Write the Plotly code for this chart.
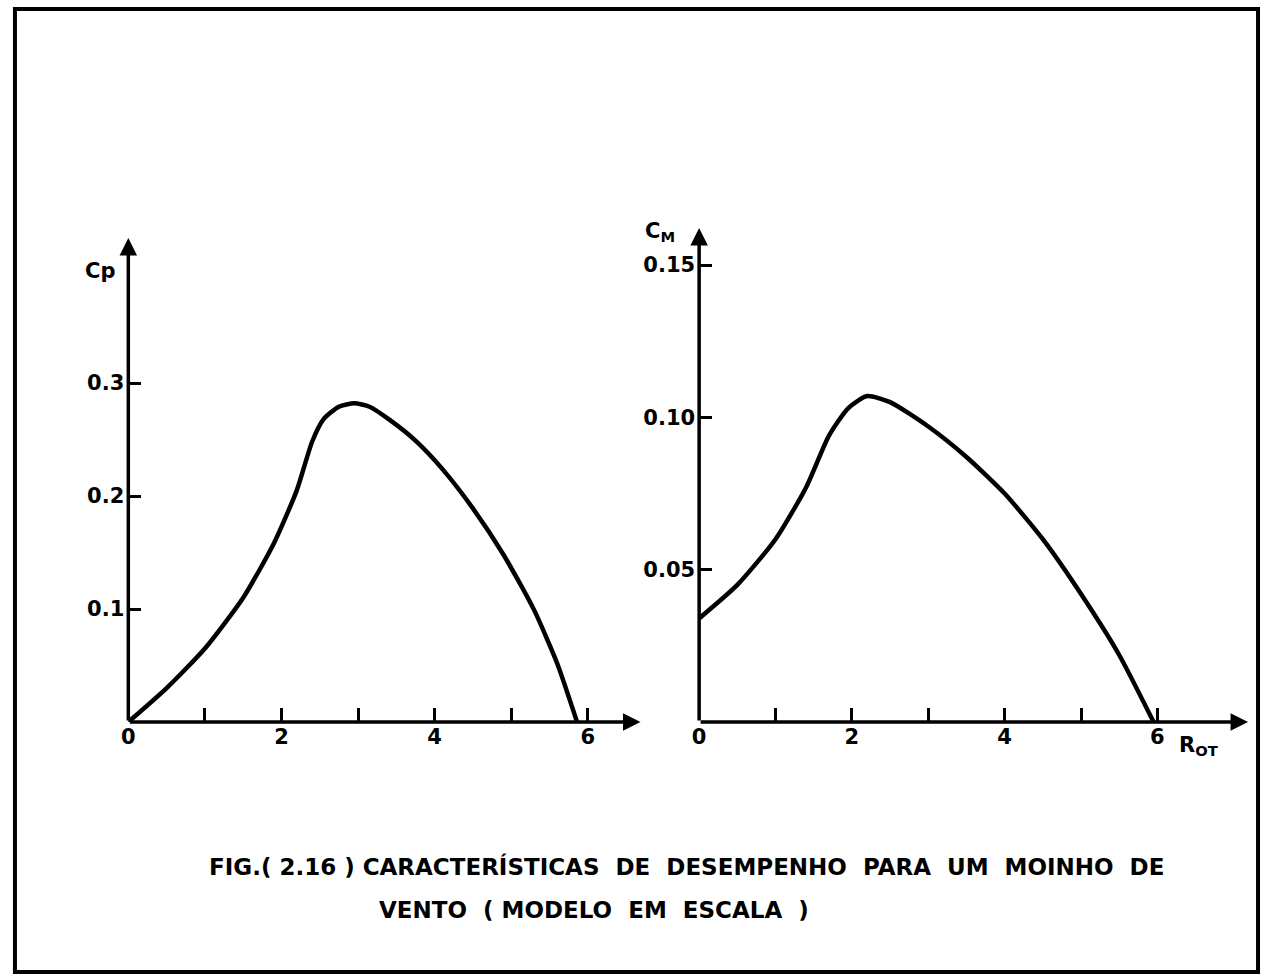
import plotly.graph_objects as go

# Data
cp_x = [0.0, 0.5, 1.0, 1.5, 1.9, 2.2, 2.4, 2.55, 2.75, 2.95, 3.15, 3.4, 3.75, 4.1, 4.5, 4.9, 5.3, 5.6, 5.86]
cp_y = [0.0, 0.030, 0.065, 0.110, 0.158, 0.205, 0.248, 0.268, 0.279, 0.282, 0.279, 0.268, 0.249, 0.224, 0.189, 0.148, 0.099, 0.052, 0.0]

cm_x = [0.0, 0.5, 1.0, 1.4, 1.7, 1.95, 2.2, 2.5, 3.0, 3.5, 4.0, 4.5, 5.0, 5.5, 5.95]
cm_y = [0.034, 0.045, 0.060, 0.077, 0.094, 0.103, 0.107, 0.105, 0.097, 0.087, 0.075, 0.060, 0.042, 0.022, 0.0]

x_ticks = [0, 1, 2, 3, 4, 5, 6]
x_ticktext = ["0", "", "2", "", "4", "", "6"]
cp_ticks = [0.1, 0.2, 0.3]
cm_ticks = [0.05, 0.10, 0.15]

caption_1 = "FIG.( 2.16 ) CARACTERÍSTICAS  DE  DESEMPENHO  PARA  UM  MOINHO  DE"
caption_2 = "VENTO  ( MODELO  EM  ESCALA  )"

W, H = 1263, 979
FONT = "DejaVu Sans"

def px(x):
    return x / W

def py(y):
    return 1 - y / H

def bold(s):
    return f"<b>{s}</b>" if s else ""

fig = go.Figure()
fig.add_trace(go.Scatter(x=cp_x, y=cp_y, mode="lines", line=dict(color="black", width=4.5, shape="spline", smoothing=0.6),
                         xaxis="x", yaxis="y", cliponaxis=False, hoverinfo="skip"))
fig.add_trace(go.Scatter(x=cm_x, y=cm_y, mode="lines", line=dict(color="black", width=4.5, shape="spline", smoothing=0.6),
                         xaxis="x2", yaxis="y2", cliponaxis=False, hoverinfo="skip"))

tickfont = dict(family=FONT, size=21, color="black")
common_x = dict(tickmode="array", tickvals=x_ticks, ticktext=[bold(t) for t in x_ticktext], ticks="inside", ticklen=14,
                tickwidth=3, tickcolor="black", showgrid=False, zeroline=False, showline=False, tickfont=tickfont,
                ticklabelstandoff=0)
common_y = dict(tickmode="array", ticks="inside", ticklen=13, tickwidth=3, tickcolor="black", showgrid=False,
                zeroline=False, showline=False, tickfont=tickfont, ticklabelstandoff=3)

left_x_end = (637 - 122) / 77.0
left_y_end = (722 - 238) / 1130.0
right_x_end = (1248 - 696) / 76.8
right_y_end = (722 - 228) / 3046.0

fig.update_layout(
    width=W, height=H, margin=dict(l=0, r=0, t=0, b=0),
    paper_bgcolor="white", plot_bgcolor="white", showlegend=False,
    xaxis=dict(domain=[px(122), px(637)], range=[0, left_x_end], anchor="y", **common_x),
    yaxis=dict(domain=[py(722), py(238)], range=[0, left_y_end], anchor="x", tickvals=cp_ticks,
               ticktext=[bold(f"{v:.1f}") for v in cp_ticks], **common_y),
    xaxis2=dict(domain=[px(696), px(1248)], range=[0, right_x_end], anchor="y2", **common_x),
    yaxis2=dict(domain=[py(722), py(228)], range=[0, right_y_end], anchor="x2", tickvals=cm_ticks,
                ticktext=[bold(f"{v:.2f}") for v in cm_ticks], **common_y),
)

arrow = dict(showarrow=True, arrowhead=2, arrowsize=1.0, arrowwidth=3.5, arrowcolor="black", text="")
lab = dict(family=FONT, size=21, color="black")
annotations = [
    dict(x=left_x_end, y=0, ax=0, ay=0, xref="x", yref="y", axref="x", ayref="y", **arrow),
    dict(x=0, y=left_y_end, ax=0, ay=0, xref="x", yref="y", axref="x", ayref="y", **arrow),
    dict(x=right_x_end, y=0, ax=0, ay=0, xref="x2", yref="y2", axref="x2", ayref="y2", **arrow),
    dict(x=0, y=right_y_end, ax=0, ay=0, xref="x2", yref="y2", axref="x2", ayref="y2", **arrow),
    dict(x=px(76), y=py(271), xref="paper", yref="paper", text="<b>Cp</b>", showarrow=False,
         xanchor="left", yanchor="middle", font=lab),
    dict(x=px(640), y=py(232), xref="paper", yref="paper", text="<b>C<sub>M</sub></b>", showarrow=False,
         xanchor="left", yanchor="middle", font=lab),
    dict(x=px(1177), y=py(746), xref="paper", yref="paper", text="<b>R<sub>OT</sub></b>", showarrow=False,
         xanchor="left", yanchor="middle", font=lab),
    dict(x=px(683), y=py(866), xref="paper", yref="paper", text="<b>" + caption_1 + "</b>", showarrow=False,
         xanchor="center", yanchor="middle", font=dict(family=FONT, size=23, color="black")),
    dict(x=px(590), y=py(910), xref="paper", yref="paper", text="<b>" + caption_2 + "</b>", showarrow=False,
         xanchor="center", yanchor="middle", font=dict(family=FONT, size=23, color="black")),
]
fig.update_layout(annotations=annotations)

fig.add_shape(type="rect", xref="paper", yref="paper", x0=px(8), y0=py(972), x1=px(1258), y1=py(9),
              line=dict(color="black", width=4), fillcolor="rgba(0,0,0,0)", layer="above")

fig.write_html("out.html", config={"displayModeBar": False},
               post_script="document.body.style.margin='0';document.body.style.overflow='hidden';")
